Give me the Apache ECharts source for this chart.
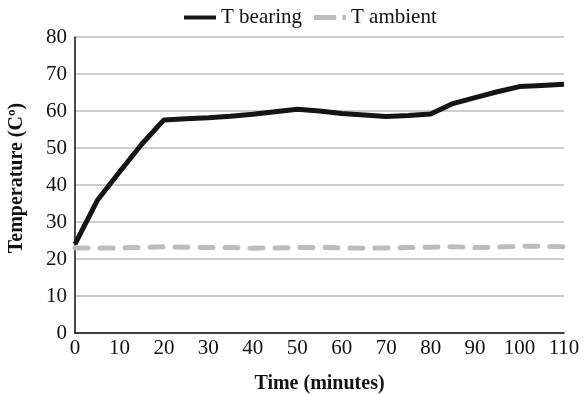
<!DOCTYPE html>
<html>
<head>
<meta charset="utf-8">
<script src="https://cdn.jsdelivr.net/npm/echarts@6/dist/echarts.min.js"></script>
<style>
  html, body { margin: 0; padding: 0; background: #fff; }
  #main { width: 588px; height: 394px; }
</style>
</head>
<body>
<div id="main"></div>
<script>
// time in minutes
var minutes = [0, 5, 10, 15, 20, 25, 30, 35, 40, 45, 50, 55, 60, 65, 70, 75, 80, 85, 90, 95, 100, 105, 110]
var tBearing = [24, 35.8, 43.5, 51, 57.6, 57.9, 58.2, 58.6, 59.1, 59.8, 60.5, 60, 59.3, 58.9, 58.5, 58.8, 59.2, 62, 63.6, 65.2, 66.6, 66.9, 67.2]
var tAmbient = [23, 23, 23, 23.1, 23.3, 23.2, 23.1, 23.1, 22.9, 23, 23.1, 23.1, 23, 22.9, 23, 23.1, 23.2, 23.3, 23.1, 23.2, 23.5, 23.4, 23.3]
var seriesNames = ['T bearing', 'T ambient']

var font = '"Liberation Serif", "Times New Roman", serif'

function pairs(vals) {
  return minutes.map(function (m, i) { return [m, vals[i]] })
}

var myChart = echarts.init(document.getElementById('main'))
myChart.setOption({
  animation: false,
  textStyle: { fontFamily: font },
  legend: {
    top: 2,
    left: 179,
    itemGap: 12,
    itemWidth: 32,
    itemHeight: 14,
    textStyle: { fontFamily: font, fontSize: 21, color: '#111' },
    data: [
      { name: seriesNames[0], icon: 'path://M0,5 L32,5 L32,9 L0,9 Z' },
      { name: seriesNames[1], icon: 'path://M3,5 L21,5 L21,9 L3,9 Z M26,5 L29,5 L29,9 L26,9 Z' }
    ]
  },
  grid: {
    left: 75,
    right: 24,
    top: 37,
    bottom: 61,
    outerBoundsMode: 'none'
  },
  xAxis: {
    type: 'value',
    min: 0,
    max: 110,
    interval: 10,
    name: 'Time (minutes)',
    nameLocation: 'middle',
    nameGap: 41,
    nameTextStyle: { fontFamily: font, fontSize: 20, fontWeight: 'bold', color: '#111' },
    axisLine: { lineStyle: { color: '#111', width: 1.5 } },
    axisTick: { show: false },
    axisLabel: { fontFamily: font, fontSize: 21, color: '#111', margin: 5 },
    splitLine: { show: false }
  },
  yAxis: {
    type: 'value',
    min: 0,
    max: 80,
    interval: 10,
    name: 'Temperature (Cº)',
    nameLocation: 'middle',
    nameGap: 48,
    nameTextStyle: { fontFamily: font, fontSize: 20, fontWeight: 'bold', color: '#111', padding: [0, 0, 0, 14] },
    axisLine: { show: true, lineStyle: { color: '#111', width: 1.5 } },
    axisTick: { show: false },
    axisLabel: { fontFamily: font, fontSize: 21, color: '#111', margin: 8 },
    splitLine: { lineStyle: { color: '#bdbdbd', width: 1.5 } }
  },
  series: [
    {
      name: seriesNames[0],
      type: 'line',
      data: pairs(tBearing),
      showSymbol: false,
      z: 3,
      lineStyle: { color: '#151515', width: 5 },
      itemStyle: { color: '#151515' }
    },
    {
      name: seriesNames[1],
      type: 'line',
      data: pairs(tAmbient),
      showSymbol: false,
      z: 2,
      lineStyle: { color: '#bcbcbc', width: 5, type: [13, 12], cap: 'round' },
      itemStyle: { color: '#bcbcbc' }
    }
  ]
})
</script>
</body>
</html>
